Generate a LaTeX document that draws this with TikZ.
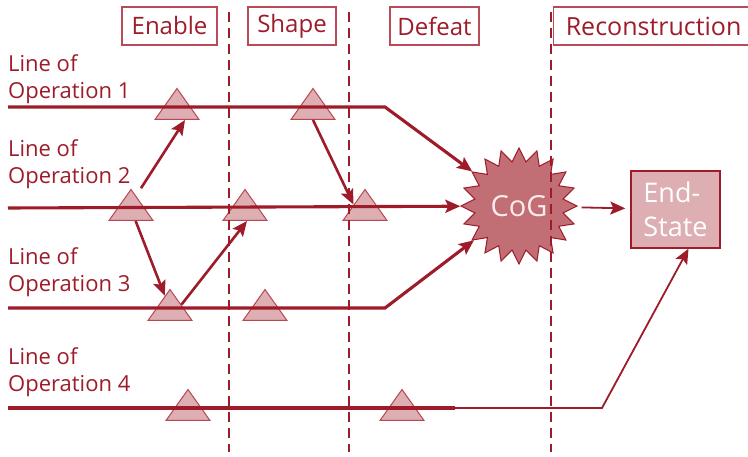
\documentclass[tikz,border=0pt]{standalone}
\usepackage{fontspec}
\setmainfont{Open Sans}
\usepackage{xcolor}
\usetikzlibrary{shapes.geometric,arrows.meta}
\definecolor{lored}{RGB}{158,27,42}
\definecolor{hdred}{RGB}{185,75,88}
\definecolor{trifill}{RGB}{221,174,178}
\definecolor{tridraw}{RGB}{185,70,82}
\definecolor{cogfill}{RGB}{193,110,116}
\definecolor{cogtext}{RGB}{250,236,237}

\begin{document}
\begin{tikzpicture}[x=1pt,y=-1pt,
    lop/.style={draw=lored, line width=3.1pt},
    arr/.style={-{Stealth[length=15pt,width=13pt,inset=3pt]}},
    flow/.style={draw=lored, line width=2.6pt, arr},
    thinflow/.style={draw=lored, line width=1.8pt, arr},
    phase/.style={draw=lored, line width=1.9pt, dash pattern=on 10pt off 6pt},
    phasebox/.style={draw=hdred, line width=1.2pt, text=lored, minimum height=38pt,
        inner sep=0pt, font=\fontsize{24}{28}\selectfont},
    oplabel/.style={anchor=north west, inner sep=0pt, align=left, text=lored,
        font=\fontsize{22}{27}\selectfont},
    tri/.style={isosceles triangle, isosceles triangle stretches, shape border rotate=90,
        minimum width=44pt, minimum height=31pt, inner sep=0pt, fill=trifill,
        draw=tridraw, line width=1pt, anchor=lower side},
    cog/.style={star, star points=20, star point ratio=1.3, minimum size=116pt,
        inner sep=0pt, fill=cogfill, draw=lored, line width=1pt, text=cogtext,
        font=\fontsize{29}{32}\selectfont},
    esbox/.style={draw=lored, line width=1.4pt, fill=trifill, text=white,
        minimum width=89pt, minimum height=77pt, inner sep=0pt, align=left,
        font=\fontsize{27}{34}\selectfont}]
    \useasboundingbox (0,0) rectangle (748,457);
    \clip (0,0) rectangle (748,457);

    % phases
    \node[phasebox, minimum width=95pt] (enable) at (169.5,26) {Enable};
    \node[phasebox, minimum width=88pt] (shape) at (292,26) {Shape};
    \node[phasebox, minimum width=89pt] (defeat) at (434.5,26) {Defeat};
    \node[phasebox, minimum width=200pt, anchor=west, font=\fontsize{25}{28}\selectfont]
        (recon) at (553,26) {Reconstruction};

    % lines of operation
    \node[oplabel] (op1) at (8,54) {Line of\\Operation 1};
    \node[oplabel] (op2) at (8,139) {Line of\\Operation 2};
    \node[oplabel] (op3) at (8,247) {Line of\\Operation 3};
    \node[oplabel] (op4) at (8,347) {Line of\\Operation 4};

    % decisive points
    \node[tri] (t11) at (177,120) {};
    \node[tri] (t12) at (313,120) {};
    \node[tri] (t21) at (131,221) {};
    \node[tri] (t22) at (245,221) {};
    \node[tri] (t23) at (365,221) {};
    \node[tri] (t31) at (170,321) {};
    \node[tri] (t32) at (265,321) {};
    \node[tri] (t41) at (188,421) {};
    \node[tri] (t42) at (402,421) {};

    \node[cog] (cg) at (519,206) {CoG};
    \node[esbox] (es) at (675.5,209.5) {End-\\State};

    \foreach \x in {229,349,551}
        \draw[phase] (\x,12) -- (\x,452);

    \coordinate (l1s) at (8,107);
    \coordinate (l1b) at (385,107);
    \coordinate (l2s) at (8,208);
    \coordinate (l3s) at (8,308);
    \coordinate (l3b) at (385,308);
    \coordinate (l4s) at (8,408);
    \coordinate (l4m) at (455,408);
    \coordinate (l4b) at (602,408);

    \draw[lop, arr] (l1s) -- (l1b) -- (cg);
    \draw[lop, arr] (l2s) -- (cg);
    \draw[lop, arr] (l3s) -- (l3b) -- (cg);
    \draw[lop] (l4s) -- (l4m);
    \draw[thinflow] (l4m) -- (l4b) -- ([xshift=13pt]es.south);

    \draw[flow] ([xshift=10pt]t21.apex) -- ([xshift=8pt]t11.lower side);
    \draw[flow] (t21) -- (t31);
    \draw[flow] (t31.right side) -- ([xshift=2pt]t22.lower side);
    \draw[flow] (t12.lower side) -- (t23.left side);
    \draw[thinflow, shorten <=6pt, shorten >=5pt] (cg) -- (es);
\end{tikzpicture}
\end{document}
